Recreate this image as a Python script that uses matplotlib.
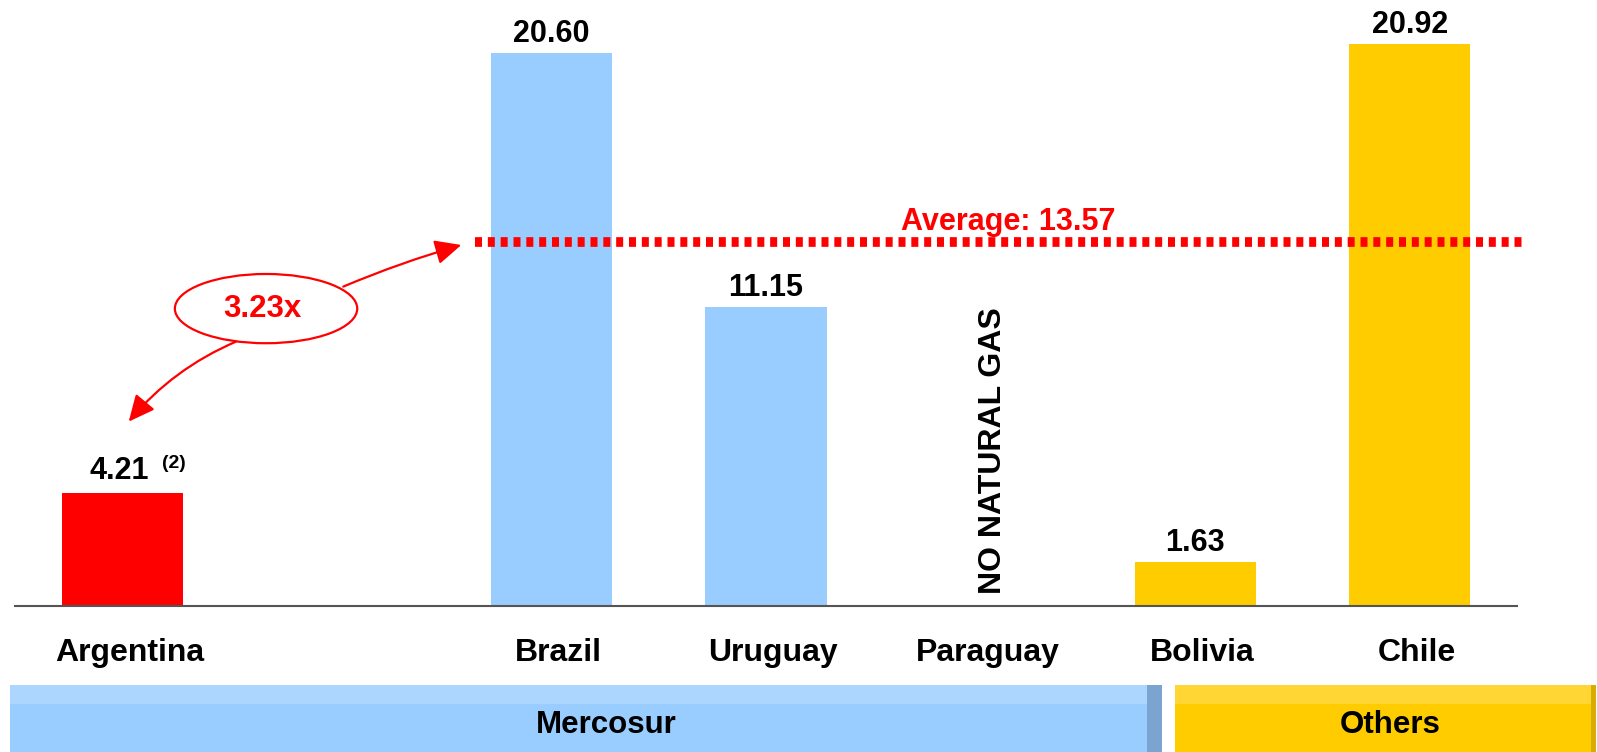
import matplotlib.pyplot as plt
from matplotlib.patches import Ellipse, FancyArrowPatch, Rectangle
from matplotlib.transforms import ScaledTranslation

plt.rcParams['font.family'] = ['Liberation Sans', 'DejaVu Sans']
plt.rcParams['font.weight'] = 'bold'

# data
countries = ['Argentina', 'Brazil', 'Uruguay', 'Paraguay', 'Bolivia', 'Chile']
positions = [0, 2, 3, 4, 5, 6]
values = [4.21, 20.60, 11.15, None, 1.63, 20.92]
bar_colors = ['#FF0000', '#99CCFF', '#99CCFF', None, '#FFCC00', '#FFCC00']
average = 13.57
ratio_label = '3.23x'
no_data_label = 'NO NATURAL GAS'
groups = ['Mercosur', 'Others']

W, H = 1597, 752
fig = plt.figure(figsize=(W / 100, H / 100), dpi=100)
ax = fig.add_axes([15 / W, (H - 606) / H, 1502 / W, 590.5 / H])
ax.set_xlim(-0.5, 6.5)
ax.set_ylim(0, 22)

for x, v, c in zip(positions, values, bar_colors):
    if v is None:
        ax.annotate(no_data_label, (x + 0.06, 0), xytext=(0, 9), textcoords='offset points',
                    rotation=90, ha='center', va='bottom', fontsize=23, fontweight='bold')
        continue
    ax.bar(x, v, width=0.565, color=c, zorder=2)
    off = 10 if x == 0 else 8
    ax.annotate(f'{v:.2f}', (x - (0.015 if x == 0 else 0), v), xytext=(0, off),
                textcoords='offset points', ha='center', va='baseline',
                fontsize=22, fontweight='bold')

# footnote on Argentina
ax.annotate('(2)', (positions[0], values[0]), xytext=(37, 18), textcoords='offset points',
            ha='center', va='baseline', fontsize=14, fontweight='bold')

# average line
ax.plot([1.643, 6.53], [average, average], color='#FF0000', lw=7.0,
        linestyle=(0, (0.72, 0.6)), dash_capstyle='butt', clip_on=False, zorder=3)
ax.text(4.13, average + 0.45, f'Average: {average:.2f}', color='#FF0000',
        ha='center', va='baseline', fontsize=22, fontweight='bold')

# ratio ellipse and arrows
ax.add_patch(Ellipse((0.67, 11.08), 0.85, 2.58, fill=False, edgecolor='#FF0000', lw=1.6, zorder=4))
ax.text(0.655, 11.08, ratio_label, color='#FF0000', ha='center', va='center',
        fontsize=22.5, fontweight='bold', zorder=5)
arrow_style = '-|>,head_length=16,head_width=7.5'
ax.add_patch(FancyArrowPatch((1.03, 11.9), (1.58, average - 0.12),
                             connectionstyle='arc3,rad=-0.03', arrowstyle=arrow_style,
                             mutation_scale=1, color='#FF0000', lw=1.6, shrinkA=0, shrinkB=0, zorder=4))
ax.add_patch(FancyArrowPatch((0.53, 9.85), (0.03, values[0] + 2.66),
                             connectionstyle='arc3,rad=0.12', arrowstyle=arrow_style,
                             mutation_scale=1, color='#FF0000', lw=1.6, shrinkA=0, shrinkB=0, zorder=4))

ax.set_xticks(positions)
ax.set_xticklabels(countries, fontsize=23, fontweight='bold')
ax.tick_params(axis='x', length=0, pad=23)
shift = ScaledTranslation(0.07, 0, fig.dpi_scale_trans)
for lbl in ax.get_xticklabels():
    lbl.set_transform(lbl.get_transform() + shift)
ax.set_yticks([])
for s in ['top', 'right', 'left']:
    ax.spines[s].set_visible(False)
ax.spines['bottom'].set_color('#555555')
ax.spines['bottom'].set_linewidth(1.5)

# group bands at the bottom
band = fig.add_axes([0, 0, 1, 67 / H])
band.set_xlim(0, W)
band.set_ylim(0, 67)
band.axis('off')
band.add_patch(Rectangle((10, 0), 1137, 67, color='#99CCFF', lw=0))
band.add_patch(Rectangle((10, 48), 1137, 19, color='#ADD6FF', lw=0))
band.add_patch(Rectangle((1147, 0), 15, 67, color='#7BA5D0', lw=0))
band.add_patch(Rectangle((1175, 0), 416, 67, color='#FFCC00', lw=0))
band.add_patch(Rectangle((1175, 48), 416, 19, color='#FFD633', lw=0))
band.add_patch(Rectangle((1591, 0), 5, 67, color='#D9AC00', lw=0))
band.text(606, 27, groups[0], ha='center', va='center', fontsize=22.5, fontweight='bold')
band.text(1390, 27, groups[1], ha='center', va='center', fontsize=22.5, fontweight='bold')

fig.savefig('out.png', dpi=100)
